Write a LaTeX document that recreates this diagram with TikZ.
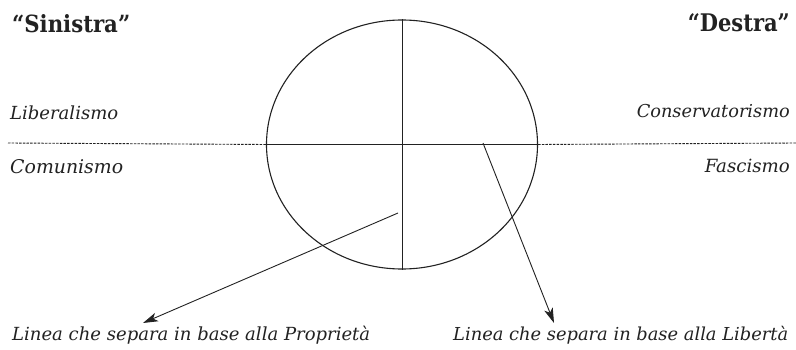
\documentclass[tikz,border=0pt]{standalone}
\usepackage{fontspec}
\usepackage{graphicx}
\setmainfont{DejaVu Serif}
\usetikzlibrary{shapes.geometric,arrows.meta}
\newcommand{\fitwh}[3]{\resizebox{#1}{#2}{#3}}
\definecolor{ink}{HTML}{222222}
\tikzset{
  lbl/.style={inner sep=0pt, text=ink},
  shape line/.style={draw=ink, line width=1.1pt},
  dashline/.style={draw=ink, line width=0.9pt, dash pattern=on 2.5pt off 1.2pt},
  pointer/.style={draw=ink, line width=0.9pt, -{Stealth[length=15pt,width=9pt,inset=4pt]}}
}
\begin{document}
\begin{tikzpicture}[x=1pt,y=-1pt]
\useasboundingbox[fill=white] (0,0) rectangle (796,350);
% ellipse
\node[ellipse, shape line, minimum width=271pt, minimum height=249pt, inner sep=0pt] (e) at (402,144.5) {};
\draw[shape line, line width=1pt] (e.west) -- (e.east);
\draw[shape line, line width=1pt] (e.north) -- (e.south);
% dashed axis
\coordinate (ll) at (8,143);
\coordinate (rr) at (796,143);
\draw[dashline] (ll) -- (e.west);
\draw[dashline] (e.east) -- (rr);
% headings
\node[lbl, anchor=base west] (sin) at (12,33) {\fitwh{118pt}{18pt}{\bfseries “Sinistra”}};
\node[lbl, anchor=base east] (des) at (790,32) {\fitwh{102pt}{18pt}{\bfseries “Destra”}};
% labels
\node[lbl, anchor=base west] (lib) at (10,120) {\fitwh{108pt}{!}{\itshape Liberalismo}};
\node[lbl, anchor=base west] (com) at (10,174) {\fitwh{113pt}{!}{\itshape Comunismo}};
\node[lbl, anchor=base east] (con) at (790,118) {\fitwh{153pt}{!}{\itshape Conservatorismo}};
\node[lbl, anchor=base east] (fas) at (790,173) {\fitwh{85pt}{!}{\itshape Fascismo}};
\node[lbl, anchor=base west] (prop) at (12,340) {\fitwh{358pt}{!}{\itshape Linea che separa in base alla Proprietà}};
\node[lbl, anchor=base west] (libt) at (453,340) {\fitwh{335pt}{!}{\itshape Linea che separa in base alla Libertà}};
% arrows
\coordinate (p1) at (398,213);
\coordinate (p1e) at (143,323);
\coordinate (p2) at (483,143);
\coordinate (p2e) at (554,323);
\draw[pointer] (p1) -- (p1e);
\draw[pointer] (p2) -- (p2e);
\end{tikzpicture}
\end{document}
